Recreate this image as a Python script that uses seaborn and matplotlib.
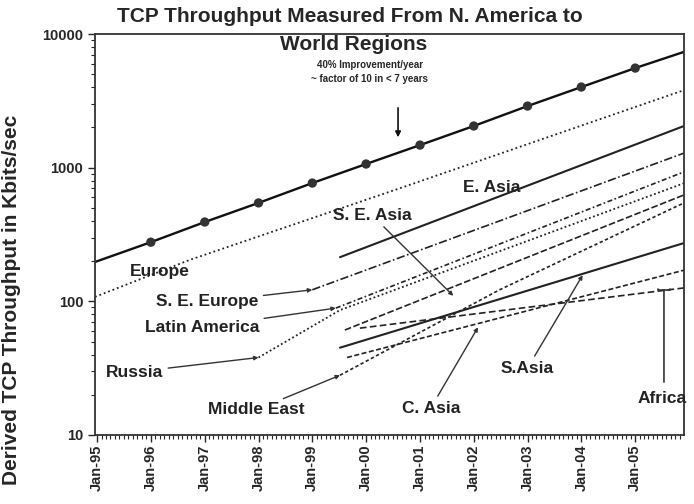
import matplotlib
matplotlib.use("Agg")
import matplotlib.pyplot as plt
import matplotlib.dates as mdates
import matplotlib.ticker as mticker
import pandas as pd
import seaborn as sns

# -------------------------------
# DATA (Kbits/sec)
# -------------------------------
trend_dates = ["1994-12-18", "1996-01-01", "1997-01-01", "1998-01-01", "1999-01-01",
               "2000-01-01", "2001-01-01", "2002-01-01", "2003-01-01", "2004-01-01",
               "2005-01-01", "2005-11-28"]
trend_kbps = [197, 277, 392, 545, 767, 1065, 1475, 2050, 2890, 4010, 5560, 7350]

europe_dates = ["1994-12-18", "1996-09-20", "2000-08-15", "2005-11-28"]
europe_kbps = [108, 204, 700, 3800]

e_asia_dates = ["1999-07-08", "2005-11-28"]
e_asia_kbps = [214, 2050]

se_europe_dates = ["1999-01-01", "2005-11-28"]
se_europe_kbps = [122, 1285]

latin_dates = ["1999-06-10", "2005-11-28"]
latin_kbps = [89, 930]

russia_dates = ["1998-01-01", "1999-07-08", "2005-11-28"]
russia_kbps = [38, 86, 765]

se_asia_dates = ["1999-08-10", "2005-11-28"]
se_asia_kbps = [61, 625]

mideast_dates = ["1999-07-08", "2002-06-25", "2005-11-28"]
mideast_kbps = [28, 122, 545]

s_asia_dates = ["1999-07-08", "2005-11-28"]
s_asia_kbps = [45, 273]

c_asia_dates = ["1999-08-25", "2005-11-28"]
c_asia_kbps = [38, 171]

africa_dates = ["1999-11-20", "2005-11-28"]
africa_kbps = [63, 126]

year_ticks = ["1995-01-01", "1996-01-01", "1997-01-01", "1998-01-01", "1999-01-01",
              "2000-01-01", "2001-01-01", "2002-01-01", "2003-01-01", "2004-01-01",
              "2005-01-01"]

# -------------------------------
# FIGURE
# -------------------------------
sns.set_theme(style="ticks")
plt.rcParams["font.family"] = ["Liberation Sans", "DejaVu Sans"]
plt.rcParams["font.weight"] = "bold"

fig = plt.figure(figsize=(6.94, 5.04), dpi=100)
ax = fig.add_axes([95 / 694, 1 - 435 / 504, 589 / 694, 401 / 504])

D = pd.to_datetime

series = [
    (europe_dates, europe_kbps, (0, (1, 1.6)), 1.3),
    (e_asia_dates, e_asia_kbps, "-", 1.5),
    (se_europe_dates, se_europe_kbps, (0, (5, 1.5, 1, 1.5)), 1.2),
    (latin_dates, latin_kbps, (0, (3, 1.5, 1, 1.5)), 1.2),
    (russia_dates, russia_kbps, (0, (1, 1.4)), 1.3),
    (se_asia_dates, se_asia_kbps, (0, (4, 1.5)), 1.2),
    (mideast_dates, mideast_kbps, (0, (2, 1.5)), 1.2),
    (s_asia_dates, s_asia_kbps, "-", 1.5),
    (c_asia_dates, c_asia_kbps, (0, (3, 1.5)), 1.2),
    (africa_dates, africa_kbps, (0, (4, 2)), 1.2),
]
for dates, vals, ls, lw in series:
    sns.lineplot(x=D(dates), y=vals, ax=ax, color="#222222", linestyle=ls, linewidth=lw)

sns.lineplot(x=D(trend_dates), y=trend_kbps, ax=ax, color="#111111", linewidth=1.7)
sns.scatterplot(x=D(trend_dates[1:-1]), y=trend_kbps[1:-1], ax=ax, color="#333333",
                s=45, edgecolor="none", zorder=5)

# -------------------------------
# AXES
# -------------------------------
ax.set_yscale("log")
ax.set_ylim(10, 10000)
ax.set_xlim(D("1994-12-18"), D("2005-11-28"))
ax.yaxis.set_major_formatter(mticker.FuncFormatter(lambda v, p: f"{v:.0f}"))
ax.yaxis.set_minor_locator(mticker.LogLocator(base=10, subs=range(2, 10)))
ax.yaxis.set_minor_formatter(mticker.NullFormatter())
ax.set_xticks(D(year_ticks))
ax.xaxis.set_major_formatter(mdates.DateFormatter("%b-%y"))
ax.xaxis.set_minor_locator(mdates.MonthLocator())
ax.tick_params(axis="x", which="major", labelsize=10.5, rotation=90, length=5, width=1, pad=2)
ax.tick_params(axis="y", which="major", labelsize=10.5, length=5, width=1)
ax.tick_params(which="minor", length=3, width=0.8)
for s in ax.spines.values():
    s.set_linewidth(1.3)
    s.set_color("#333333")
ax.set_xlabel("")
ax.set_ylabel("")

fig.text(12 / 694, 1 - 300 / 504, "Derived TCP Throughput in Kbits/sec", rotation=90,
         ha="center", va="center", fontsize=15, fontweight="bold")
fig.text(350 / 694, 1 - 17 / 504, "TCP Throughput Measured From N. America to",
         ha="center", va="center", fontsize=15, fontweight="bold")
fig.text(354 / 694, 1 - 45 / 504, "World Regions",
         ha="center", va="center", fontsize=15, fontweight="bold")

# -------------------------------
# ANNOTATIONS
# -------------------------------
lab = dict(fontsize=12.5, fontweight="bold", color="#222222", ha="center", va="center")
arr = dict(arrowstyle="-|>", color="#333333", lw=1.0, mutation_scale=6, shrinkA=1, shrinkB=0)

ax.text(D("2000-01-25"), 5190, "40% Improvement/year\n~ factor of 10 in < 7 years",
        fontsize=7, fontweight="bold", ha="center", va="center", linespacing=1.5)
ax.annotate("", xy=(D("2000-08-05"), 1608), xytext=(D("2000-08-05"), 2940),
            arrowprops=dict(arrowstyle="-|>", color="#111111", lw=1.2, mutation_scale=8))

ax.text(D("1996-03-01"), 166, "Europe", **lab)
ax.text(D("2002-05-05"), 716, "E. Asia", **lab)
ax.annotate("S. E. Europe", xy=(D("1999-01-01"), 122), xytext=(D("1997-01-20"), 99),
            arrowprops=arr, **lab)
ax.annotate("Latin America", xy=(D("1999-06-10"), 89), xytext=(D("1996-12-15"), 64),
            arrowprops=arr, **lab)
ax.annotate("Russia", xy=(D("1998-01-01"), 38), xytext=(D("1995-09-15"), 29.6),
            arrowprops=arr, **lab)
ax.annotate("Middle East", xy=(D("1999-07-08"), 28), xytext=(D("1997-12-15"), 15.4),
            arrowprops=arr, **lab)
ax.annotate("S. E. Asia", xy=(D("2001-08-15"), 110), xytext=(D("2000-02-10"), 442),
            arrowprops=arr, **lab)
ax.annotate("C. Asia", xy=(D("2002-01-30"), 64), xytext=(D("2001-03-15"), 15.9),
            arrowprops=arr, **lab)
ax.annotate("S.Asia", xy=(D("2004-01-10"), 157), xytext=(D("2003-01-01"), 31.7),
            arrowprops=arr, **lab)
ax.text(D("2005-07-01"), 18.9, "Africa", clip_on=False, **lab)
ax.annotate("", xy=(D("2005-07-15"), 121.6), xytext=(D("2005-07-15"), 24.9),
            arrowprops=dict(arrowstyle="-[, widthB=0.35, lengthB=0.05", color="#333333",
                            lw=1.2, shrinkA=0, shrinkB=0))

fig.savefig("out.png", dpi=100)
